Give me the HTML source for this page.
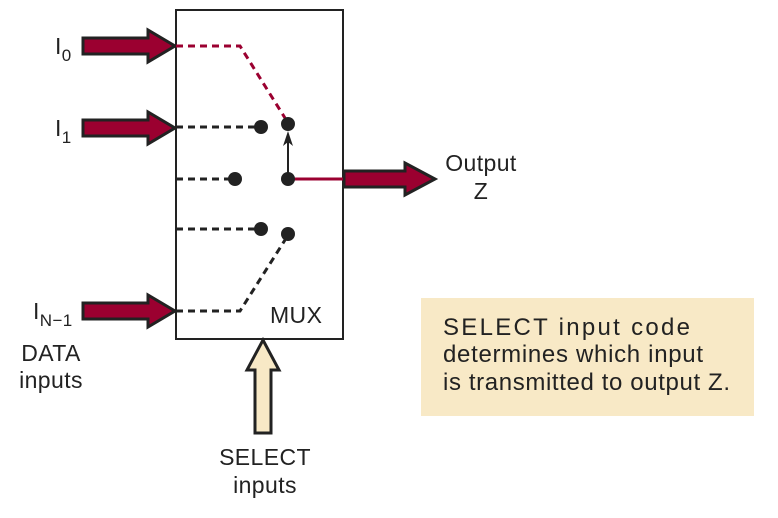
<!DOCTYPE html>
<html><head><style>body{margin:0;background:#fff}</style></head><body>
<svg width="778" height="513" xmlns="http://www.w3.org/2000/svg" font-family="Liberation Sans, sans-serif" font-size="23" fill="#222" letter-spacing="0.4">
<rect x="176" y="10" width="167" height="329" fill="#fff" stroke="#222" stroke-width="2"/>
<g fill="#9b0030" stroke="#222" stroke-width="3" stroke-linejoin="miter">
<polygon points="83,38 148,38 148,30 175,46 148,62 148,54 83,54"/>
<polygon points="83,120 148,120 148,112 175,128 148,144 148,136 83,136"/>
<polygon points="83,303 148,303 148,295 175,311 148,327 148,319 83,319"/>
<polygon points="344,171 405,171 405,163 435,179 405,195 405,187 344,187"/>
</g>
<polygon points="255,433 255,370 247,370 263,340 279,370 271,370 271,433" fill="#f8e9c6" stroke="#222" stroke-width="3"/>
<g fill="none" stroke-width="3" stroke-dasharray="7,5">
<polyline points="176,46 240,46 285,118" stroke="#9b0030"/>
<g stroke="#222">
<line x1="176" y1="127" x2="255" y2="127"/>
<line x1="176" y1="179" x2="230" y2="179"/>
<line x1="176" y1="229" x2="255" y2="229"/>
<polyline points="176,311 240,311 285,240"/>
</g></g>
<line x1="288" y1="179" x2="343" y2="179" stroke="#9b0030" stroke-width="3"/>
<line x1="288" y1="179" x2="288" y2="140" stroke="#222" stroke-width="2"/>
<polygon points="288,131 283,146 288,142 293,146" fill="#222"/>
<g fill="#222">
<circle cx="261" cy="127" r="7"/><circle cx="288" cy="124" r="7"/>
<circle cx="235" cy="179" r="7"/><circle cx="288" cy="179" r="7"/>
<circle cx="261" cy="229" r="7"/><circle cx="288" cy="234" r="7"/>
</g>
<text x="55" y="54">I<tspan font-size="17" dy="7">0</tspan></text>
<text x="55" y="136">I<tspan font-size="17" dy="7">1</tspan></text>
<text x="33" y="319">I<tspan font-size="17" dy="7">N−1</tspan></text>
<text x="51" y="361" text-anchor="middle">DATA</text>
<text x="51" y="388" text-anchor="middle">inputs</text>
<text x="270" y="323">MUX</text>
<text x="481" y="171" text-anchor="middle">Output</text>
<text x="481" y="199" text-anchor="middle">Z</text>
<text x="265" y="465" text-anchor="middle">SELECT</text>
<text x="265" y="493" text-anchor="middle">inputs</text>
<rect x="421" y="298" width="333" height="118" fill="#f8e9c6"/>
<g font-size="24" letter-spacing="0">
<text x="443" y="335" textLength="247">SELECT input code</text>
<text x="443" y="362" textLength="260">determines which input</text>
<text x="443" y="390" textLength="287">is transmitted to output Z.</text>
</g>
</svg>
</body></html>
